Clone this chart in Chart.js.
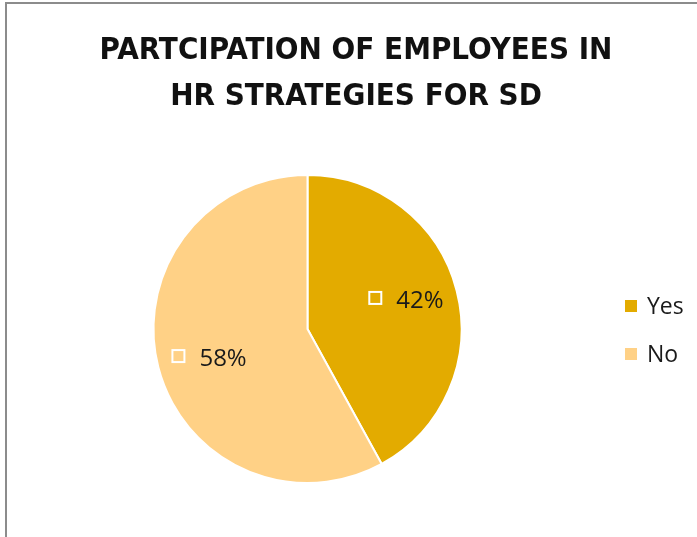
<!DOCTYPE html>
<html>
<head>
<meta charset="utf-8">
<script src="https://cdn.jsdelivr.net/npm/chart.js@4"></script>
<style>
    html, body { margin: 0; padding: 0; background: #fff; overflow: hidden; }
    #wrap { position: relative; width: 697px; height: 537px; }
    #frame { position: absolute; left: 5px; top: 2px; width: 800px; height: 700px; border: 2px solid #8c8c8c; box-sizing: border-box; }
    canvas { position: absolute; left: 0; top: 0; }
</style>
</head>
<body>
<div id="wrap">
    <div id="frame"></div>
    <canvas id="pieChart" width="697" height="537"></canvas>
</div>
<script>
const titleLines = ['PARTCIPATION OF EMPLOYEES IN', 'HR STRATEGIES FOR SD'];
const categories = ['Yes', 'No'];
const shares = [42, 58];
const sliceColors = ['#E3AB00', '#FFD186'];

const textFont = "'Open Sans', 'DejaVu Sans', sans-serif";

// title drawn by hand so it can sit off the pie's centre line, like the original
const chartTitle = {
    id: 'chartTitle',
    afterDraw(chart) {
        const ctx = chart.ctx;
        ctx.save();
        ctx.font = "bold 31px 'Liberation Sans Narrow', 'DejaVu Sans Condensed', sans-serif";
        ctx.fillStyle = '#111';
        ctx.textAlign = 'center';
        ctx.textBaseline = 'alphabetic';
        titleLines.forEach((line, i) => {
            ctx.fillText(line, 356, 59 + i * 46);
        });
        ctx.restore();
    }
};

// percentage labels with a small white key square, drawn inside each slice
const sliceLabels = {
    id: 'sliceLabels',
    afterDatasetsDraw(chart) {
        const ctx = chart.ctx;
        const meta = chart.getDatasetMeta(0);
        const total = shares.reduce((a, b) => a + b, 0);
        ctx.save();
        ctx.font = '24px ' + textFont;
        ctx.textBaseline = 'middle';
        meta.data.forEach((arc, i) => {
            const p = arc.getProps(['x', 'y', 'startAngle', 'endAngle', 'outerRadius'], true);
            const mid = (p.startAngle + p.endAngle) / 2;
            const r = p.outerRadius * 0.66;
            const cx = p.x + Math.cos(mid) * r;
            const cy = p.y + Math.sin(mid) * r * 1.15;
            const text = Math.round(shares[i] / total * 100) + '%';
            const tw = ctx.measureText(text).width;
            const box = 14, gap = 14;
            const left = cx - (box + gap + tw) / 2;
            ctx.strokeStyle = '#fff';
            ctx.lineWidth = 2;
            ctx.strokeRect(left + 1, cy - box / 2 - 1, box - 2, box - 2);
            ctx.fillStyle = '#1a1a1a';
            ctx.textAlign = 'left';
            ctx.fillText(text, left + box + gap, cy + 1);
        });
        ctx.restore();
    }
};

// legend on the right, squares + names
const sideLegend = {
    id: 'sideLegend',
    afterDraw(chart) {
        const ctx = chart.ctx;
        const x = 625;
        const ys = [306, 354];
        ctx.save();
        ctx.font = '23px ' + textFont;
        ctx.textBaseline = 'middle';
        ctx.textAlign = 'left';
        chart.data.labels.forEach((label, i) => {
            ctx.fillStyle = chart.data.datasets[0].backgroundColor[i];
            ctx.fillRect(x, ys[i] - 6, 12, 12);
            ctx.fillStyle = '#1a1a1a';
            ctx.fillText(label, x + 22, ys[i] + 1);
        });
        ctx.restore();
    }
};

const ctx = document.getElementById('pieChart').getContext('2d');
new Chart(ctx, {
    type: 'pie',
    data: {
        labels: categories,
        datasets: [{
            data: shares,
            backgroundColor: sliceColors,
            borderColor: '#ffffff',
            borderWidth: 2
        }]
    },
    options: {
        responsive: false,
        animation: false,
        layout: { padding: { top: 174, bottom: 53, left: 0, right: 82 } },
        plugins: {
            legend: { display: false },
            tooltip: { enabled: false },
            title: { display: false }
        }
    },
    plugins: [sliceLabels, sideLegend, chartTitle]
});
</script>
</body>
</html>
